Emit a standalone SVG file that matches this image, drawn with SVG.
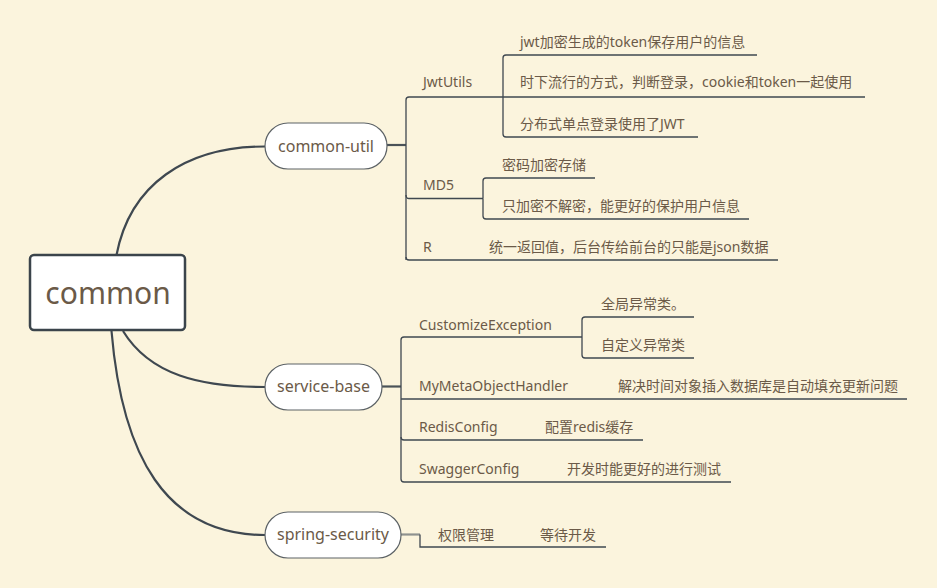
<svg xmlns="http://www.w3.org/2000/svg" width="937" height="588" viewBox="0 0 937 588">
<style>
.bg{fill:#FBF4DD}
.ln{fill:none;stroke:#3F4850;stroke-width:1.3}
.curve{fill:none;stroke:#3F4850;stroke-width:2.2}
.stub{fill:none;stroke:#4A5258;stroke-width:2.2}
.pill{fill:#FFFFFF;stroke:#5C6266;stroke-width:1.2}
.root{fill:#FFFFFF;stroke:#3B444B;stroke-width:2.5}
text{font-family:'Noto Sans','Noto Sans CJK SC',sans-serif;fill:#6B5A48}
.t14{font-size:14px}
.t16{font-size:16px}
.c{text-anchor:middle}
</style>
<rect class="bg" x="0" y="0" width="937" height="588"/>
<g id="connectors">
<path class="curve" d="M116.5,255 C130,185 185,146.5 265,146.5"/>
<path class="curve" d="M123,331 C150,375 200,387 265,387"/>
<path class="curve" d="M111.5,331 C122,455 165,535 265,535"/>
<!-- common-util -->
<path class="stub" d="M387,145 H406"/>
<path class="ln" d="M406,260 V100 Q406,97 409,97 H865"/>
<path class="ln" d="M406,195 Q406,198.5 409,198.5 H483"/>
<path class="ln" d="M406,257 Q406,260 409,260 H778"/>
<path class="ln" d="M503,97 V58 Q503,55 506,55 H757"/>
<path class="ln" d="M503,97 V134 Q503,137 506,137 H698"/>
<path class="ln" d="M483,198.5 V181 Q483,178 486,178 H595"/>
<path class="ln" d="M483,198.5 V216 Q483,219 486,219 H749"/>
<!-- service-base -->
<path class="stub" d="M382,386.5 H401"/>
<path class="ln" d="M401,479 V340 Q401,337 404,337 H582"/>
<path class="ln" d="M401,399 H907"/>
<path class="ln" d="M401,437 Q401,440 404,440 H643"/>
<path class="ln" d="M401,479 Q401,482 404,482 H731"/>
<path class="ln" d="M582,337 V320 Q582,317 585,317 H694"/>
<path class="ln" d="M582,337 V355 Q582,358 585,358 H694"/>
<!-- spring-security -->
<path class="stub" style="stroke:#8E918F" d="M401,534.5 H420"/>
<path class="ln" d="M420,534.5 V547 H606"/>
</g>
<g id="root">
<rect class="root" x="30" y="255" width="155" height="75" rx="4"/>
<text class="c" x="108" y="304" style="font-size:30px">common</text>
</g>
<g id="common-util">
<rect class="pill" x="265" y="123" width="122" height="46" rx="23"/>
<text class="t16 c" x="326" y="151.5">common-util</text>
</g>
<g id="service-base">
<rect class="pill" x="265" y="364" width="117" height="46" rx="23"/>
<text class="t16 c" x="323.5" y="392">service-base</text>
</g>
<g id="spring-security">
<rect class="pill" x="265" y="512" width="136" height="46" rx="23"/>
<text class="t16 c" x="333" y="540">spring-security</text>
</g>
<g id="JwtUtils"><text class="t14" x="423" y="87">JwtUtils</text></g>
<g id="jwt1"><text class="t14" x="520" y="47">jwt加密生成的token保存用户的信息</text></g>
<g id="jwt2"><text class="t14" x="520" y="87">时下流行的方式，判断登录，cookie和token一起使用</text></g>
<g id="jwt3"><text class="t14" x="520" y="129">分布式单点登录使用了JWT</text></g>
<g id="MD5"><text class="t14" x="423" y="190">MD5</text></g>
<g id="md5-1"><text class="t14" x="502" y="170">密码加密存储</text></g>
<g id="md5-2"><text class="t14" x="502" y="211">只加密不解密，能更好的保护用户信息</text></g>
<g id="R"><text class="t14" x="423" y="252">R</text></g>
<g id="r-1"><text class="t14" x="489" y="252">统一返回值，后台传给前台的只能是json数据</text></g>
<g id="CustomizeException"><text class="t14" x="419" y="329.5">CustomizeException</text></g>
<g id="ce-1"><text class="t14" x="601" y="308.5">全局异常类。</text></g>
<g id="ce-2"><text class="t14" x="601" y="350">自定义异常类</text></g>
<g id="MyMetaObjectHandler"><text class="t14" x="419" y="390.5">MyMetaObjectHandler</text></g>
<g id="mm-1"><text class="t14" x="618" y="390.5">解决时间对象插入数据库是自动填充更新问题</text></g>
<g id="RedisConfig"><text class="t14" x="419" y="432">RedisConfig</text></g>
<g id="rc-1"><text class="t14" x="545" y="432">配置redis缓存</text></g>
<g id="SwaggerConfig"><text class="t14" x="419" y="473.5">SwaggerConfig</text></g>
<g id="sc-1"><text class="t14" x="567" y="473.5">开发时能更好的进行测试</text></g>
<g id="perm"><text class="t14" x="438" y="539.5">权限管理</text></g>
<g id="perm-1"><text class="t14" x="540" y="539.5">等待开发</text></g>
</svg>
